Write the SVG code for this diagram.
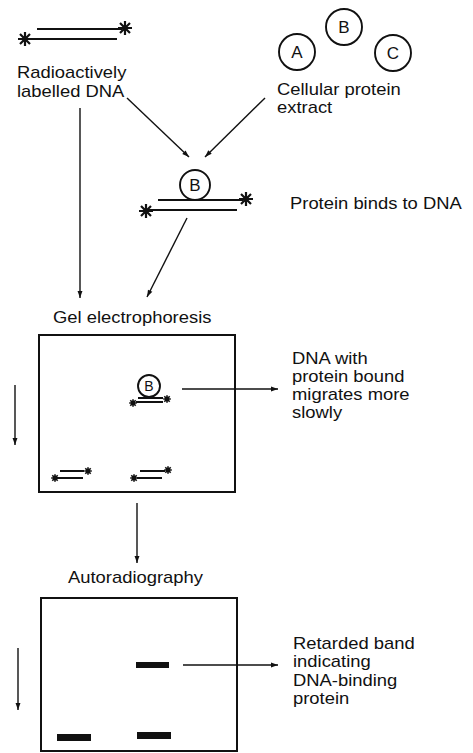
<svg xmlns="http://www.w3.org/2000/svg" width="473" height="753" viewBox="0 0 473 753">
<style>
text{font-family:"Liberation Sans",Arial,sans-serif;font-size:16px;fill:#111}
.lt{font-size:17px;text-anchor:middle}
.ln{stroke:#111;stroke-width:1.9;fill:none}
.bx{stroke:#111;stroke-width:2;fill:none}
.cn{stroke:#111;stroke-width:1.4;fill:none}
.band{fill:#111}
</style>
<defs>
<marker id="ah" viewBox="0 0 10 10" refX="10" refY="5" markerWidth="10" markerHeight="7" markerUnits="userSpaceOnUse" orient="auto">
<path d="M0,1.5 L10,5 L0,8.5 Z" fill="#111"/>
</marker>
<g id="star">
<path d="M-7,0H7M0,-7V7M-5,-5L5,5M-5,5L5,-5" stroke="#111" stroke-width="2.2"/>
<circle r="2.6" fill="#111"/>
</g>
<g id="sstar">
<path d="M-3.8,0H3.8M0,-3.8V3.8M-2.7,-2.7L2.7,2.7M-2.7,2.7L2.7,-2.7" stroke="#111" stroke-width="1.6"/>
<circle r="2.2" fill="#111"/>
</g>
</defs>

<g id="labelled-dna">
<path class="ln" d="M37,29H122M30,39H117"/>
<use href="#star" x="125" y="28"/>
<use href="#star" x="25" y="39"/>
<text transform="translate(17,78) scale(1.15,1)">Radioactively</text>
<text transform="translate(17,97) scale(1.15,1)">labelled DNA</text>
</g>

<g id="protein-extract">
<circle class="ln" cx="297" cy="52" r="18"/>
<text class="lt" x="297" y="58">A</text>
<circle class="ln" cx="344" cy="27" r="18"/>
<text class="lt" x="344" y="33">B</text>
<circle class="ln" cx="393" cy="53" r="18"/>
<text class="lt" x="393" y="59">C</text>
<text transform="translate(277,95) scale(1.15,1)">Cellular protein</text>
<text transform="translate(277,113) scale(1.15,1)">extract</text>
</g>

<g id="complex">
<circle class="ln" cx="195" cy="185" r="15"/>
<text class="lt" x="195" y="191">B</text>
<path class="ln" d="M158,200H243M148,210H237"/>
<use href="#star" x="246" y="199"/>
<use href="#star" x="146" y="211"/>
<text transform="translate(290,209) scale(1.15,1)">Protein binds to DNA</text>
</g>

<g id="gel">
<text transform="translate(53,323) scale(1.15,1)">Gel electrophoresis</text>
<rect class="bx" x="39" y="335" width="196" height="157"/>
<circle class="ln" cx="149" cy="386" r="11" stroke-width="1.5"/>
<text class="lt" x="149" y="391" style="font-size:14px">B</text>
<path class="ln" d="M138,398H163M136,402H163" stroke-width="1.3"/>
<use href="#sstar" x="167" y="399"/>
<use href="#sstar" x="133" y="403"/>
<path class="ln" d="M60,471H84M57,478H83M140,471H165M137,478H162" stroke-width="1.3"/>
<use href="#sstar" x="88" y="471"/>
<use href="#sstar" x="55" y="478"/>
<use href="#sstar" x="168" y="470"/>
<use href="#sstar" x="134" y="478"/>
<text transform="translate(292,364) scale(1.15,1)">DNA with</text>
<text transform="translate(292,382) scale(1.15,1)">protein bound</text>
<text transform="translate(292,400) scale(1.15,1)">migrates more</text>
<text transform="translate(292,418) scale(1.15,1)">slowly</text>
</g>

<g id="autoradiography">
<text transform="translate(68,583) scale(1.15,1)">Autoradiography</text>
<rect class="bx" x="41" y="598" width="196" height="153"/>
<rect class="band" x="136" y="662" width="33" height="6"/>
<rect class="band" x="57" y="734" width="34" height="7"/>
<rect class="band" x="137" y="732" width="34" height="7"/>
<text transform="translate(293,649) scale(1.15,1)">Retarded band</text>
<text transform="translate(293,667) scale(1.15,1)">indicating</text>
<text transform="translate(293,686) scale(1.15,1)">DNA-binding</text>
<text transform="translate(293,704) scale(1.15,1)">protein</text>
</g>

<g id="connectors">
<path class="cn" d="M80,108V298" marker-end="url(#ah)"/>
<path class="cn" d="M127,98L189,157" marker-end="url(#ah)"/>
<path class="cn" d="M265,98L205,157" marker-end="url(#ah)"/>
<path class="cn" d="M187,218L147,297" marker-end="url(#ah)"/>
<path class="cn" d="M182,389H278" marker-end="url(#ah)"/>
<path class="cn" d="M15,385V445" marker-end="url(#ah)"/>
<path class="cn" d="M137,503V563" marker-end="url(#ah)"/>
<path class="cn" d="M183,665H278" marker-end="url(#ah)"/>
<path class="cn" d="M18,648V710" marker-end="url(#ah)"/>
</g>
</svg>
